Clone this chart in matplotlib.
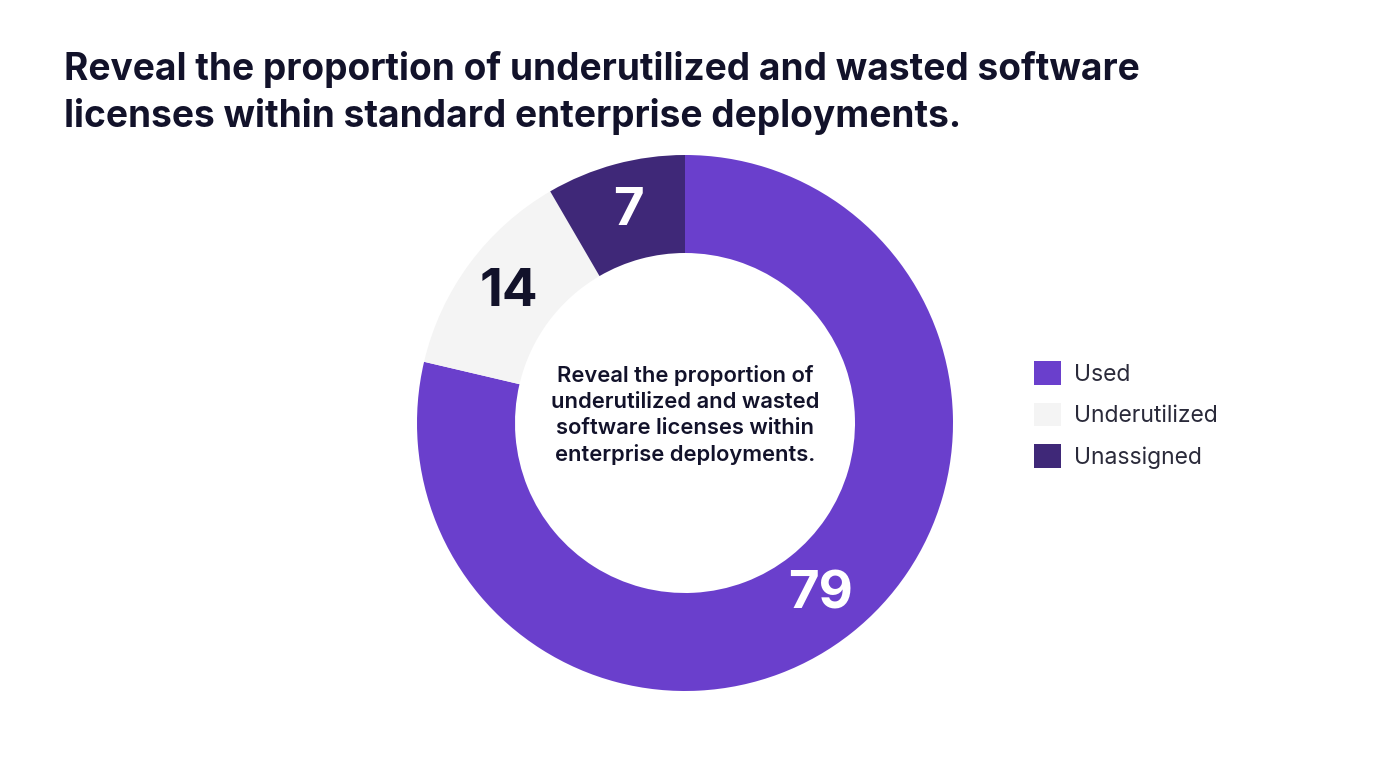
import matplotlib
matplotlib.use("Agg")
from matplotlib import pyplot as plt
from matplotlib.patches import Patch
import numpy as np

plt.rcParams["font.family"] = ["Inter", "DejaVu Sans"]

labels = ["Used", "Underutilized", "Unassigned"]
values = [79, 14, 7]
shares = [283.2, 46.6, 30.2]
colors = ["#6a3fcc", "#f4f4f4", "#3f2878"]
label_colors = ["white", "#12122a", "white"]

title = ("Reveal the proportion of underutilized and wasted software\n"
         "licenses within standard enterprise deployments.")
center_text = ("Reveal the proportion of\nunderutilized and wasted\n"
               "software licenses within\nenterprise deployments.")

W, H = 1376, 768
fig = plt.figure(figsize=(W/100, H/100), dpi=100)
fig.patch.set_facecolor("white")

# square axes around the donut centre (685, 423) px
cx, cy, half = 685, 423, 300
ax = fig.add_axes([(cx-half)/W, (H-cy-half)/H, 2*half/W, 2*half/H])
ax.axis("off")

R = 268/half
ring = (268-170)/half
wedges, _ = ax.pie(shares, colors=colors, startangle=90, counterclock=False,
                   radius=R, wedgeprops=dict(width=ring, linewidth=0))
ax.set_xlim(-1, 1)
ax.set_ylim(-1, 1)
ax.set_aspect("equal")

rmid = R - ring/2
for w, v, c in zip(wedges, values, label_colors):
    mid = np.deg2rad((w.theta1 + w.theta2)/2)
    ax.text(rmid*np.cos(mid), rmid*np.sin(mid), str(v), ha="center", va="center",
            fontsize=38, fontweight="bold", color=c)

ax.text(0, 8/half, center_text, ha="center", va="center", fontsize=15.8,
        fontweight="semibold", color="#12122a", linespacing=1.37)

fig.text(64/W, 1-51/H, title, ha="left", va="top", fontsize=26.7,
         fontweight="bold", color="#12122a", linespacing=1.34)

handles = [Patch(facecolor=c, edgecolor="none") for c in colors]
fig.legend(handles, labels, loc="center left", bbox_to_anchor=(1013/W, 1-415/H),
           frameon=False, fontsize=16.5, handlelength=1.2, handleheight=1.2,
           handletextpad=0.55, labelspacing=0.75, labelcolor="#2a2a3a")

fig.savefig("out.png", dpi=100, facecolor="white")
